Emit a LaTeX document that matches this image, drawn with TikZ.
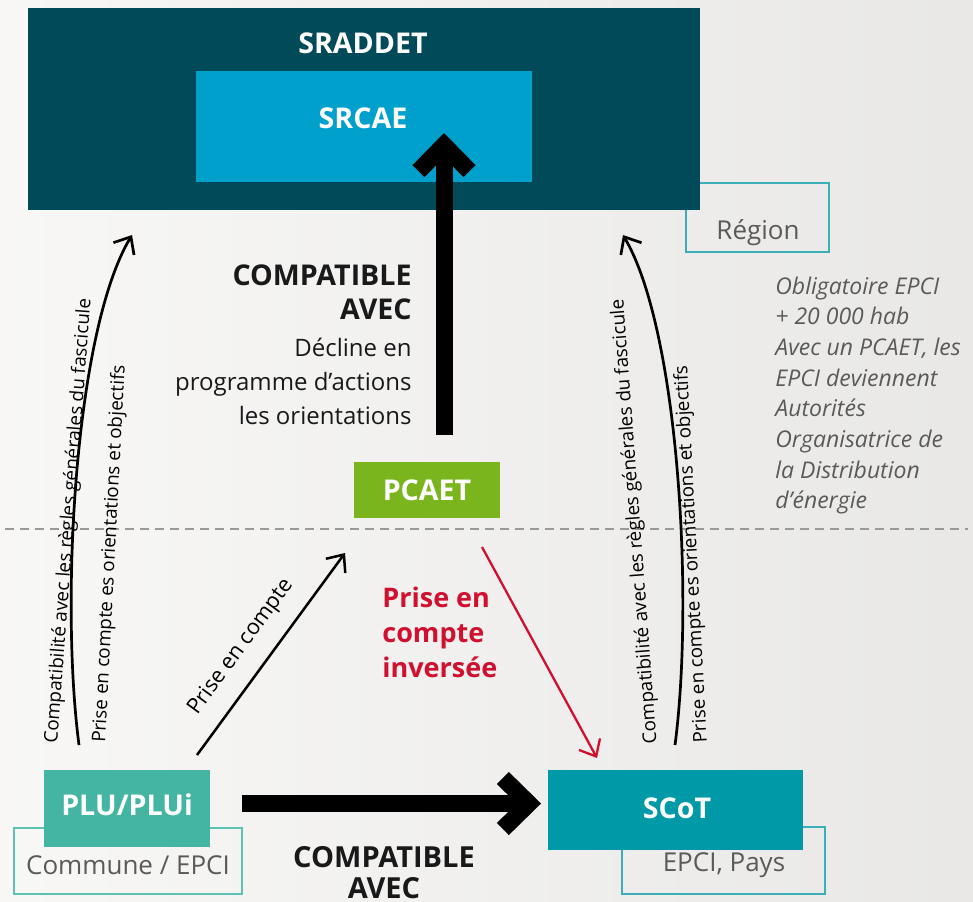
\documentclass[tikz,border=0pt]{standalone}
\usepackage{fontspec}
\setmainfont{Open Sans}
\usetikzlibrary{arrows.meta}
\definecolor{bgcol}{HTML}{F3F2F0}
\definecolor{sraddetcol}{HTML}{004A5A}
\definecolor{srcaecol}{HTML}{00A0CC}
\definecolor{pcaetcol}{HTML}{7AB51D}
\definecolor{plucol}{HTML}{45B5A3}
\definecolor{scotcol}{HTML}{0099A8}
\definecolor{outlinecol}{HTML}{3AAFB8}
\definecolor{outlinegreen}{HTML}{5CC3B0}
\definecolor{greytext}{HTML}{5A5A5A}
\definecolor{redtext}{HTML}{D0102E}
\begin{document}
\begin{tikzpicture}[x=0.5pt,y=-0.5pt,
		box/.style={fill=#1,inner sep=0pt,outer sep=0pt},
		boxtext/.style={text=white,inner sep=0pt,font=\fontsize{14.3}{17}\selectfont\bfseries},
		placebox/.style={draw=#1,line width=0.6pt,inner sep=0pt},
		placetext/.style={text=greytext,inner sep=0pt,font=\fontsize{13}{15}\selectfont},
		bigarrow/.style={line width=8.5pt,-{Straight Barb[length=13pt,width=25.5pt]}},
		thinarrow/.style={line width=1.35pt,-{Straight Barb[length=7pt,width=12pt]}},
		sidetext/.style={inner sep=0pt,font=\fontsize{9.4}{11}\selectfont}]
		\useasboundingbox[left color=bgcol!60!white,right color=bgcol!90!gray!95] (0,0) rectangle (973,901);
		\node[placebox=outlinecol,minimum width=71.5pt,minimum height=34.5pt] (region) at (757.5,217.5) {};
		\node[placetext] (regiontxt) at (758,233) {Région};
		\node[box=sraddetcol,minimum width=336pt,minimum height=101pt] (sraddet) at (364,109) {};
		\node[boxtext] (sraddettxt) at (363,43) {SRADDET};
		\node[box=srcaecol,minimum width=168pt,minimum height=55.5pt] (srcae) at (364,126.5) {};
		\node[boxtext] (srcaetxt) at (363,118) {SRCAE};
		\node[box=pcaetcol,minimum width=73pt,minimum height=28pt] (pcaet) at (427,490) {};
		\node[boxtext] (pcaettxt) at (427,490) {PCAET};
		\node[placebox=outlinegreen,minimum width=114pt,minimum height=33pt] (commune) at (128,861) {};
		\node[placetext] (communetxt) at (128,865) {Commune / EPCI};
		\node[box=plucol,minimum width=83pt,minimum height=38.5pt] (plu) at (127,808.5) {};
		\node[boxtext] (plutxt) at (127,805) {PLU/PLUi};
		\node[placebox=outlinecol,minimum width=101.5pt,minimum height=33.5pt] (epci) at (723.5,860.5) {};
		\node[placetext] (epcitxt) at (724,865) {EPCI, Pays};
		\node[box=scotcol,minimum width=127.5pt,minimum height=40pt] (scot) at (675.5,810) {};
		\node[boxtext] (scottxt) at (677,808) {SCoT};
		\draw[gray!80,line width=0.6pt,dash pattern=on 4.5pt off 3pt] (5,529) -- (968,529);
		\node[anchor=east,align=right,inner sep=0pt,text=black!90,font=\fontsize{14.3}{17}\selectfont\bfseries] (compat) at (412,292) {COMPATIBLE\\AVEC};
		\node[anchor=east,align=right,inner sep=0pt,text=black!90,font=\fontsize{12}{17}\selectfont] (decline) at (412,381) {Décline en\\programme d’actions\\les orientations};
		\node[align=center,inner sep=0pt,text=black!90,font=\fontsize{14.5}{15.5}\selectfont\bfseries] (compatbas) at (384,872.5) {COMPATIBLE\\AVEC};
		\node[anchor=west,align=left,inner sep=0pt,text=redtext,font=\fontsize{13.5}{17.5}\selectfont\bfseries] (inverse) at (382,632) {Prise en\\compte\\inversée};
		\node[anchor=west,align=left,inner sep=0pt,text=greytext,font=\fontsize{11.5}{15.35}\selectfont\itshape] (note) at (775,395.5) {Obligatoire EPCI\\+ 20 000 hab\\Avec un PCAET, les\\EPCI deviennent\\Autorités\\Organisatrice de\\la Distribution\\d’énergie};
		\coordinate (ua) at (444,435);
		\coordinate (ub) at (444,133);
		\draw[bigarrow] (ua) -- (ub);
		\coordinate (ha) at (242,803.5);
		\coordinate (hb) at (541,803.5);
		\draw[bigarrow] (ha) -- (hb);
		\coordinate (lb) at (79,745);
		\coordinate (lt) at (132,235);
		\draw[thinarrow] (lb) .. controls (60,600) and (75,330) .. (lt);
		\coordinate (rb) at (675,745);
		\coordinate (rt) at (623,235);
		\draw[thinarrow] (rb) .. controls (694,600) and (679,330) .. (rt);
		\node[sidetext,rotate=85.7] (lregles) at (69,521) {Compatibilité avec les règles générales du fascicule};
		\node[sidetext,rotate=87] (lorient) at (110,554) {Prise en compte es orientations et objectifs};
		\node[sidetext,rotate=94.3] (rregles) at (635,521.5) {Compatibilité avec les règles générales du fascicule};
		\node[sidetext,rotate=93] (rorient) at (692,554) {Prise en compte es orientations et objectifs};
		\coordinate (da) at (197,755);
		\coordinate (db) at (345,553);
		\draw[thinarrow,line width=1.25pt] (da) -- (db);
		\node[inner sep=0pt,rotate=53.8,font=\fontsize{10.8}{12}\selectfont] (prise) at (241,647) {Prise en compte};
		\coordinate (ra) at (482,547);
		\coordinate (rz) at (597,758);
		\draw[thinarrow,redtext,line width=1.15pt] (ra) -- (rz);
	\end{tikzpicture}
\end{document}
